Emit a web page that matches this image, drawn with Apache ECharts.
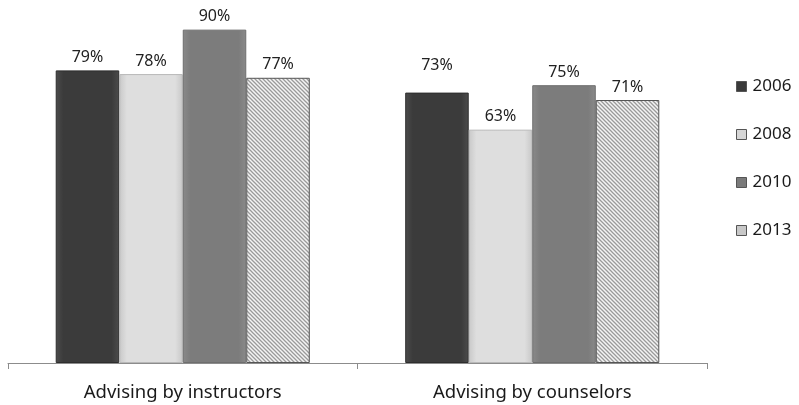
<!DOCTYPE html>
<html><head><meta charset="utf-8">
<script src="https://cdn.jsdelivr.net/npm/echarts@6/dist/echarts.min.js"></script>
<style>html,body{margin:0;padding:0;background:#fff}#c{width:799px;height:405px}</style>
</head><body><div id="c"></div>
<script>
const categories = ['Advising by instructors', 'Advising by counselors'];
const seriesNames = ['2006', '2008', '2010', '2013'];
const v2006 = [79, 73];
const v2008 = [78, 63];
const v2010 = [90, 75];
const v2013 = [77, 71];

function hatch() {
  const c = document.createElement('canvas');
  c.width = 4; c.height = 4;
  const g = c.getContext('2d');
  g.fillStyle = '#f4f4f4'; g.fillRect(0, 0, 4, 4);
  g.strokeStyle = '#9a9a9a'; g.lineWidth = 1.3;
  g.beginPath();
  g.moveTo(-1, -1); g.lineTo(5, 5);
  g.moveTo(-1, 3); g.lineTo(1, 5);
  g.moveTo(3, -1); g.lineTo(5, 1);
  g.stroke();
  return c;
}
function grad(edge, mid) {
  return {type: 'linear', x: 0, y: 0, x2: 1, y2: 0, colorStops: [
    {offset: 0, color: edge}, {offset: 0.12, color: mid}, {offset: 0.5, color: mid},
    {offset: 0.88, color: mid}, {offset: 1, color: edge}]};
}
const fills = [grad('#4c4c4c', '#3b3b3b'), grad('#c8c8c8', '#dedede'), grad('#8a8a8a', '#7c7c7c'), {image: hatch(), repeat: 'repeat'}];
const borders = ['#2e2e2e', '#b8b8b8', '#6e6e6e', '#555555'];
const legendIcon = ['#3a3a3a', '#d6d6d6', '#7a7a7a', '#c8c8c8'];
const allValues = [v2006, v2008, v2010, v2013];

const chart = echarts.init(document.getElementById('c'), null, {renderer: 'canvas'});
const font = 'Noto Sans, sans-serif';
chart.setOption({
  animation: false,
  textStyle: {fontFamily: font},
  grid: {left: 8, right: 92, top: 0, bottom: 42},
  legend: {
    orient: 'vertical', left: 731, top: 73, itemWidth: 10, itemHeight: 10, itemGap: 31,
    icon: 'rect',
    textStyle: {fontSize: 17, color: '#1a1a1a', fontFamily: font, padding: [0, 0, 0, 1]},
    data: seriesNames.map((n, i) => ({name: n, itemStyle: {color: legendIcon[i], borderColor: '#555', borderWidth: 1}}))
  },
  xAxis: {
    type: 'category', data: categories,
    axisLine: {lineStyle: {color: '#8c8c8c', width: 1}},
    axisTick: {show: true, length: 6, lineStyle: {color: '#8c8c8c'}},
    axisLabel: {fontSize: 18.5, color: '#1a1a1a', margin: 20, fontFamily: font}
  },
  yAxis: {type: 'value', min: 0, max: 98, show: false, splitLine: {show: false}},
  series: seriesNames.map((n, i) => ({
    name: n, type: 'bar', barGap: '0%', barCategoryGap: '27.3%',
    data: allValues[i].map((v, j) => ({value: v, label: {distance: (i === 0 && j === 1) ? 19 : 5}})),
    itemStyle: {color: fills[i], borderColor: borders[i], borderWidth: 1},
    label: {show: true, position: 'top', formatter: '{c}%', fontSize: 16, color: '#222', fontFamily: font}
  }))
});
</script></body></html>
